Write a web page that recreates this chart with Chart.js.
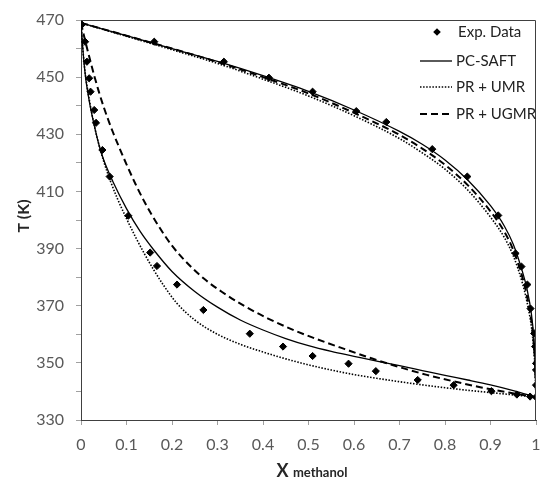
<!DOCTYPE html>
<html>
<head>
<meta charset="utf-8">
<script src="https://cdn.jsdelivr.net/npm/chart.js@4.4.1/dist/chart.umd.min.js"></script>
<style>
  html, body { margin: 0; padding: 0; background: #fff; }
  canvas { display: block; }
</style>
</head>
<body>
<canvas id="c" width="541" height="485"></canvas>
<script>
// ---------- DATA ----------
const xTickValues = [0, 0.1, 0.2, 0.3, 0.4, 0.5, 0.6, 0.7, 0.8, 0.9, 1];
const yTickLabels = [330, 350, 370, 390, 410, 430, 450, 470];

const expBubble = [[0.002,468.4],[0.009,462.4],[0.013,455.4],[0.018,449.6],[0.021,444.9],[0.029,438.5],[0.033,434],[0.047,424.5],[0.063,415.2],[0.104,401.5],[0.152,388.6],[0.167,383.9],[0.211,377.4],[0.269,368.5],[0.371,360.2],[0.444,355.7],[0.509,352.4],[0.588,349.7],[0.648,347.1],[0.74,344],[0.819,342.2],[0.902,340.1],[0.958,338.9],[0.987,338.2],[1.0,338]];
const expDew = [[0.161,462.4],[0.314,455.4],[0.413,449.8],[0.509,444.9],[0.605,438.1],[0.671,434.3],[0.772,424.8],[0.849,415.2],[0.917,401.6],[0.955,388.3],[0.968,383.7],[0.981,377.4],[0.988,369],[0.996,360.3],[0.998,355.7],[1.0,349.8],[1.0,347.5],[1.0,342.2]];

const pcsaftBubble = [[0,469],[0.005,458],[0.01,450],[0.02,440],[0.03,432.5],[0.04,426],[0.05,421],[0.07,413.5],[0.1,404],[0.13,396],[0.16,389.5],[0.2,382],[0.25,375],[0.3,369.5],[0.35,365],[0.4,361.5],[0.45,358.5],[0.5,356],[0.55,354],[0.6,352.3],[0.65,350.6],[0.7,349],[0.75,347.3],[0.8,345.6],[0.85,344],[0.9,342.3],[0.95,340.3],[1.0,338]];
const pcsaftDew = [[0,469],[0.1,464.5],[0.2,460],[0.3,455.5],[0.4,450.5],[0.5,445],[0.6,438.5],[0.7,431],[0.75,426.5],[0.8,421],[0.85,414],[0.9,405],[0.93,398],[0.95,391.5],[0.97,382],[0.98,376],[0.99,367],[0.995,359],[0.998,350],[1.0,338]];

const umrBubble = [[0,469],[0.005,458],[0.01,450.5],[0.02,440.5],[0.03,432.5],[0.04,426],[0.05,420.5],[0.065,413.5],[0.08,407.5],[0.1,400.5],[0.12,394],[0.14,388],[0.16,382.5],[0.18,377.5],[0.21,371],[0.25,365],[0.3,360],[0.35,356.5],[0.4,353.8],[0.45,351.4],[0.5,349.3],[0.55,347.5],[0.6,345.9],[0.65,344.6],[0.7,343.4],[0.75,342.3],[0.8,341.3],[0.85,340.4],[0.9,339.6],[0.95,338.8],[1.0,338]];
const umrDew = [[0,469],[0.1,464.3],[0.2,459.6],[0.3,454.8],[0.4,449.3],[0.5,443.4],[0.6,436.5],[0.7,428.5],[0.75,423.5],[0.8,417.8],[0.85,410.5],[0.9,401],[0.93,394],[0.95,387.5],[0.97,378],[0.98,371.5],[0.99,362.5],[0.995,355],[0.998,347.5],[1.0,338]];

const ugmrBubble = [[0,469],[0.005,465.5],[0.01,462.2],[0.02,456],[0.03,450],[0.04,444.5],[0.05,439.5],[0.06,435],[0.07,430.8],[0.085,425],[0.1,419.5],[0.12,412.5],[0.14,406.2],[0.17,398],[0.2,391],[0.23,385.5],[0.27,379.5],[0.31,374.8],[0.36,369.8],[0.41,365.6],[0.47,361.3],[0.52,358.2],[0.58,354.8],[0.64,351.5],[0.7,348.5],[0.76,345.8],[0.82,343.5],[0.88,341.4],[0.94,339.6],[1.0,338]];
const ugmrDew = [[0,469],[0.1,464.5],[0.2,460],[0.3,455.3],[0.4,450],[0.5,444.3],[0.6,437.5],[0.7,429.8],[0.75,425],[0.8,419.3],[0.85,412.2],[0.9,403],[0.93,396],[0.95,389.5],[0.97,380],[0.98,373.5],[0.99,364.5],[0.995,357],[0.998,349],[1.0,338]];

const legendLabels = ['Exp. Data', 'PC-SAFT', 'PR + UMR', 'PR + UGMR'];
const xTitleMain = 'X';
const xTitleSub = 'methanol';
const yTitle = 'T (K)';

// ---------- STYLES ----------
const FONT = 'Lato, "Open Sans", "DejaVu Sans", sans-serif';
const toPts = arr => arr.map(p => ({ x: p[0], y: p[1] }));
const SOLID = { borderColor: '#000', borderWidth: 1.3, borderDash: [] };
const DOTTED = { borderColor: '#000', borderWidth: 1.6, borderDash: [1.5, 1.6] };
const DASHED = { borderColor: '#000', borderWidth: 2, borderDash: [7, 4] };

function lineDs(data, style) {
  return Object.assign({
    data: toPts(data), showLine: true, pointRadius: 0, pointHoverRadius: 0,
    cubicInterpolationMode: 'monotone', fill: false
  }, style);
}

const expStyle = { pointStyle: 'rectRot', pointRadius: 3.6, backgroundColor: '#000', borderColor: '#000', borderWidth: 1, showLine: false };

const framePlugin = {
  id: 'frame',
  afterDatasetsDraw(chart) {
    const { ctx, chartArea: a } = chart;
    ctx.save();
    ctx.strokeStyle = '#404040';
    ctx.lineWidth = 1;
    ctx.beginPath();
    ctx.moveTo(a.left, a.top + 0.5);
    ctx.lineTo(a.right - 0.5, a.top + 0.5);
    ctx.lineTo(a.right - 0.5, a.bottom);
    ctx.stroke();
    ctx.restore();
  }
};

const legendPlugin = {
  id: 'customLegend',
  afterDraw(chart) {
    const { ctx } = chart;
    ctx.save();
    const rows = [32, 61, 87, 114];
    const lx0 = 420, lx1 = 452, tx = 456;
    ctx.fillStyle = '#000';
    const cx = 437, cy = rows[0], r = 3.8;
    ctx.beginPath();
    ctx.moveTo(cx, cy - r); ctx.lineTo(cx + r, cy); ctx.lineTo(cx, cy + r); ctx.lineTo(cx - r, cy); ctx.closePath();
    ctx.fill();
    const styles = [SOLID, DOTTED, DASHED];
    for (let i = 0; i < 3; i++) {
      const s = styles[i];
      ctx.strokeStyle = s.borderColor;
      ctx.lineWidth = s.borderWidth;
      ctx.setLineDash(s.borderDash);
      ctx.beginPath();
      ctx.moveTo(lx0, rows[i + 1]);
      ctx.lineTo(lx1, rows[i + 1]);
      ctx.stroke();
    }
    ctx.setLineDash([]);
    ctx.font = '15px ' + FONT;
    ctx.fillStyle = '#222';
    ctx.textBaseline = 'middle';
    ctx.textAlign = 'left';
    legendLabels.forEach((t, i) => ctx.fillText(t, i === 0 ? 458 : tx, rows[i]));
    ctx.restore();
  }
};

const titlesPlugin = {
  id: 'titles',
  afterDraw(chart) {
    const { ctx } = chart;
    ctx.save();
    ctx.fillStyle = '#262626';
    ctx.font = 'bold 16px ' + FONT;
    ctx.translate(24, 216);
    ctx.rotate(-Math.PI / 2);
    ctx.textAlign = 'center';
    ctx.textBaseline = 'middle';
    ctx.fillText(yTitle, 0, 0);
    ctx.setTransform(1, 0, 0, 1, 0, 0);
    ctx.textAlign = 'left';
    ctx.textBaseline = 'alphabetic';
    const f1 = 'bold 18px ' + FONT, f2 = 'bold 13px ' + FONT;
    ctx.font = f1; const w1 = ctx.measureText(xTitleMain + ' ').width;
    ctx.font = f2; const w2 = ctx.measureText(xTitleSub).width;
    const x0 = 312 - (w1 + w2) / 2, base = 477;
    ctx.font = f1; ctx.fillText(xTitleMain, x0, base);
    ctx.font = f2; ctx.fillText(xTitleSub, x0 + w1, base);
    ctx.restore();
  }
};

new Chart(document.getElementById('c'), {
  type: 'scatter',
  data: {
    datasets: [
      lineDs(pcsaftBubble, SOLID),
      lineDs(pcsaftDew, SOLID),
      lineDs(umrBubble, DOTTED),
      lineDs(umrDew, DOTTED),
      lineDs(ugmrBubble, DASHED),
      lineDs(ugmrDew, DASHED),
      Object.assign({ data: toPts(expBubble) }, expStyle),
      Object.assign({ data: toPts(expDew) }, expStyle)
    ]
  },
  options: {
    responsive: false,
    animation: false,
    events: [],
    layout: { padding: { left: 0, right: 3, top: 20, bottom: 0 } },
    plugins: { legend: { display: false }, tooltip: { enabled: false } },
    scales: {
      x: {
        type: 'linear', min: 0, max: 1,
        afterBuildTicks: s => { s.ticks = xTickValues.map(v => ({ value: v })); },
        ticks: {
          color: '#595959', font: { family: FONT, size: 16 }, padding: 10,
          maxRotation: 0, autoSkip: false,
          callback: v => String(Math.round(v * 10) / 10)
        },
        grid: { drawOnChartArea: false, tickLength: 5, color: '#a0a0a0', tickWidth: 1 },
        border: { color: '#404040', width: 1 },
        afterFit: s => { s.height = 65; s.paddingLeft = 0; s.paddingRight = 0; }
      },
      y: {
        type: 'linear', min: 330, max: 470,
        ticks: {
          stepSize: 10,
          color: '#595959', font: { family: FONT, size: 16 }, padding: 12,
          autoSkip: false,
          callback: v => yTickLabels.includes(v) ? String(v) : ''
        },
        grid: { drawOnChartArea: false, tickLength: 5, color: '#a0a0a0', tickWidth: 1 },
        border: { color: '#404040', width: 1 },
        afterFit: s => { s.width = 81; s.paddingTop = 0; s.paddingBottom = 0; }
      }
    }
  },
  plugins: [framePlugin, legendPlugin, titlesPlugin]
});
</script>
</body>
</html>
